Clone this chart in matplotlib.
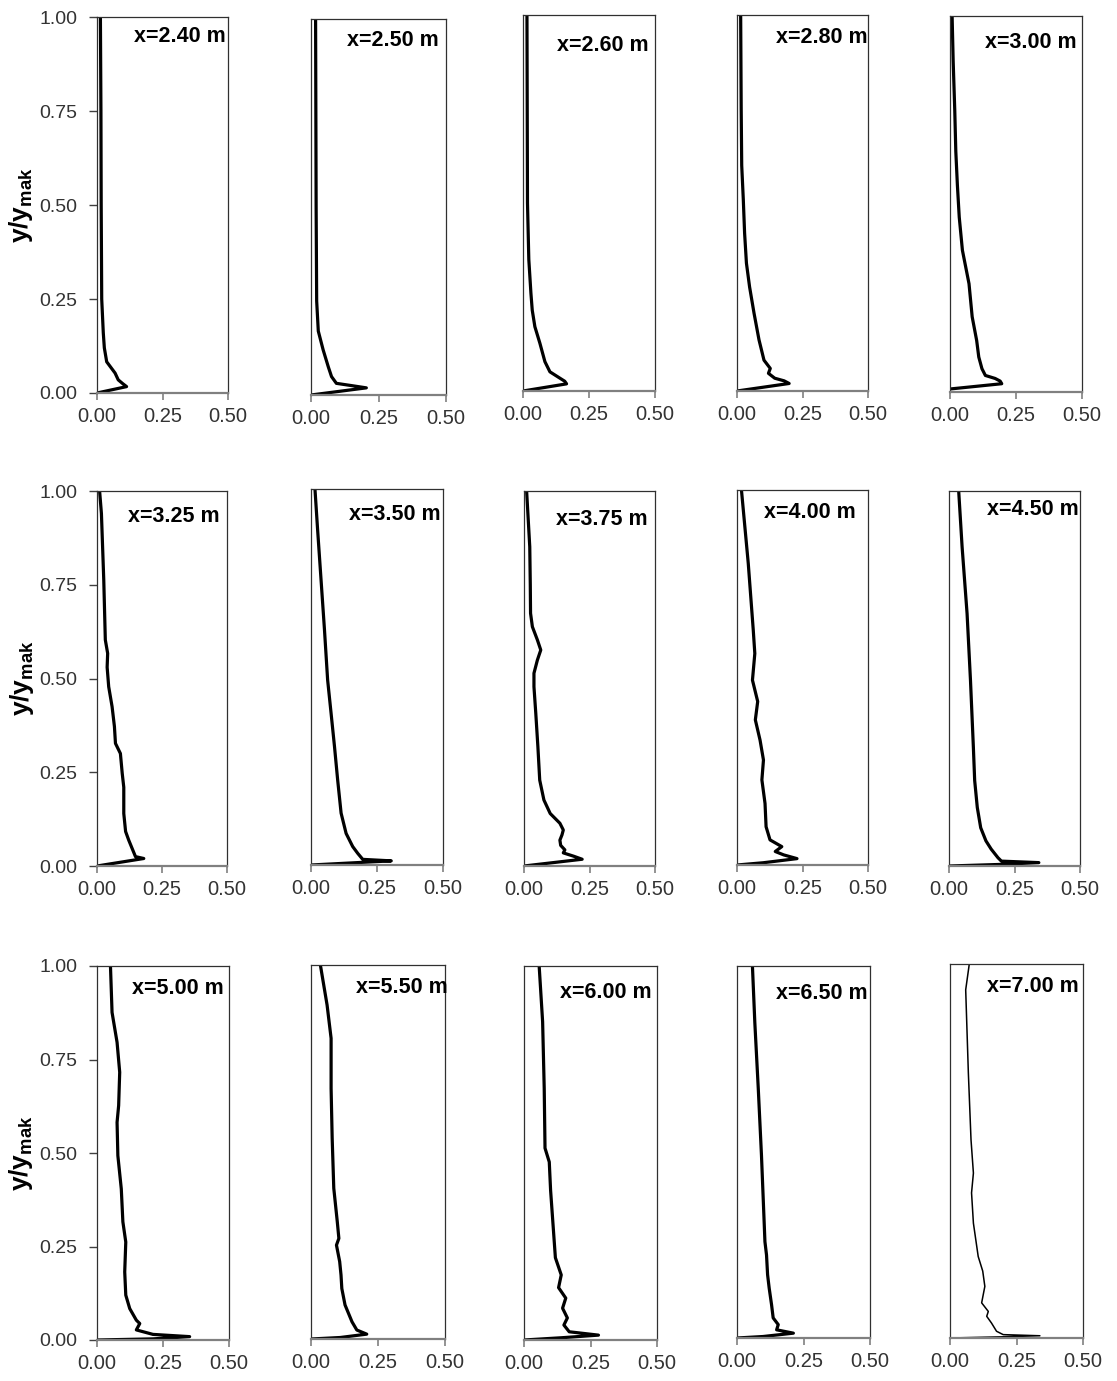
import numpy as np
import matplotlib
matplotlib.use('Agg')
import matplotlib.pyplot as plt

plt.rcParams['font.family'] = 'Liberation Sans'
plt.rcParams['mathtext.fontset'] = 'custom'
plt.rcParams['mathtext.bf'] = 'Liberation Sans:bold'
plt.rcParams['mathtext.rm'] = 'Liberation Sans'

# stations along the channel
stations = ['2.40', '2.50', '2.60', '2.80', '3.00',
            '3.25', '3.50', '3.75', '4.00', '4.50',
            '5.00', '5.50', '6.00', '6.50', '7.00']

# profiles: u = horizontal value, y = y/y_mak
y_240 = [0.0, 0.017, 0.025, 0.035, 0.053, 0.083, 0.12, 0.16, 0.25, 0.5, 0.75, 1.0]
u_240 = [0.0, 0.113, 0.098, 0.081, 0.069, 0.037, 0.028, 0.024, 0.018, 0.016, 0.015, 0.013]

y_250 = [0.0, 0.019, 0.025, 0.031, 0.049, 0.075, 0.12, 0.17, 0.25, 0.5, 0.75, 1.0]
u_250 = [0.0, 0.205, 0.15, 0.094, 0.076, 0.064, 0.045, 0.027, 0.021, 0.019, 0.018, 0.017]

y_260 = [0.0, 0.019, 0.026, 0.034, 0.051, 0.078, 0.127, 0.171, 0.215, 0.26, 0.35, 0.5, 0.75, 1.0]
u_260 = [0.0, 0.165, 0.158, 0.14, 0.102, 0.083, 0.064, 0.045, 0.035, 0.03, 0.022, 0.017, 0.016, 0.015]

y_280 = [0.0, 0.020, 0.027, 0.034, 0.047, 0.060, 0.082, 0.136, 0.207, 0.277, 0.34, 0.42, 0.51, 0.6, 0.75, 1.0]
u_280 = [0.0, 0.199, 0.18, 0.144, 0.12, 0.127, 0.103, 0.084, 0.065, 0.048, 0.036, 0.029, 0.024, 0.018, 0.016, 0.014]

y_300 = [0.008, 0.022, 0.029, 0.036, 0.044, 0.062, 0.093, 0.137, 0.2, 0.288, 0.377, 0.465, 0.55, 0.64, 0.75, 0.88, 1.0]
u_300 = [0.0, 0.196, 0.19, 0.171, 0.134, 0.121, 0.109, 0.101, 0.084, 0.072, 0.047, 0.035, 0.028, 0.022, 0.018, 0.012, 0.008]

y_325 = [0.0, 0.020, 0.025, 0.047, 0.069, 0.092, 0.14, 0.21, 0.247, 0.30, 0.327, 0.372, 0.425,
         0.478, 0.53, 0.567, 0.603, 0.763, 0.94, 1.0]
u_325 = [0.0, 0.180, 0.148, 0.135, 0.122, 0.110, 0.103, 0.103, 0.097, 0.090, 0.071, 0.067, 0.058,
         0.045, 0.039, 0.041, 0.032, 0.026, 0.017, 0.010]

y_350 = [0.0, 0.011, 0.015, 0.031, 0.049, 0.084, 0.138, 0.226, 0.315, 0.404, 0.492, 0.626, 0.759, 0.892, 1.0]
u_350 = [0.0, 0.304, 0.196, 0.177, 0.158, 0.133, 0.114, 0.101, 0.089, 0.076, 0.063, 0.051, 0.038, 0.025, 0.015]

y_375 = [0.0, 0.018, 0.026, 0.035, 0.043, 0.055, 0.069, 0.083, 0.096, 0.114, 0.14, 0.176, 0.229,
         0.318, 0.407, 0.478, 0.514, 0.549, 0.576, 0.603, 0.638, 0.674, 0.75, 0.851, 1.0]
u_375 = [0.0, 0.222, 0.19, 0.15, 0.156, 0.14, 0.137, 0.145, 0.15, 0.137, 0.10, 0.076, 0.060,
         0.053, 0.045, 0.038, 0.038, 0.051, 0.064, 0.051, 0.032, 0.025, 0.024, 0.022, 0.010]

y_400 = [0.0, 0.006, 0.017, 0.027, 0.036, 0.049, 0.067, 0.102, 0.164, 0.227, 0.28, 0.333, 0.387,
         0.436, 0.493, 0.564, 0.627, 0.804, 1.0]
u_400 = [0.0, 0.10, 0.229, 0.178, 0.146, 0.171, 0.126, 0.111, 0.107, 0.095, 0.101, 0.088, 0.070,
         0.079, 0.059, 0.068, 0.062, 0.043, 0.017]

y_450 = [0.0, 0.004, 0.009, 0.013, 0.022, 0.045, 0.067, 0.102, 0.156, 0.228, 0.317, 0.495, 0.673, 0.851, 1.0]
u_450 = [0.0, 0.187, 0.343, 0.2, 0.187, 0.161, 0.141, 0.121, 0.108, 0.098, 0.093, 0.082, 0.069, 0.050, 0.037]

y_500 = [0.0, 0.003, 0.009, 0.015, 0.027, 0.044, 0.053, 0.084, 0.12, 0.182, 0.262, 0.316, 0.404,
         0.493, 0.582, 0.627, 0.716, 0.796, 0.876, 1.0]
u_500 = [0.0, 0.212, 0.351, 0.212, 0.149, 0.162, 0.149, 0.124, 0.109, 0.105, 0.109, 0.098, 0.092,
         0.079, 0.076, 0.082, 0.086, 0.076, 0.057, 0.051]

y_550 = [0.0, 0.004, 0.013, 0.024, 0.046, 0.091, 0.135, 0.171, 0.207, 0.251, 0.269, 0.314, 0.403,
         0.537, 0.670, 0.804, 0.893, 1.0]
u_550 = [0.0, 0.109, 0.208, 0.171, 0.153, 0.127, 0.115, 0.112, 0.107, 0.095, 0.104, 0.098, 0.085,
         0.079, 0.075, 0.075, 0.060, 0.035]

y_600 = [0.0, 0.006, 0.013, 0.022, 0.04, 0.059, 0.085, 0.112, 0.14, 0.174, 0.22, 0.3, 0.4, 0.476,
         0.513, 0.673, 0.851, 1.0]
u_600 = [0.0, 0.14, 0.28, 0.17, 0.15, 0.163, 0.145, 0.157, 0.13, 0.14, 0.118, 0.11, 0.1, 0.095,
         0.079, 0.076, 0.07, 0.057]

y_650 = [0.0, 0.004, 0.013, 0.022, 0.036, 0.054, 0.089, 0.134, 0.17, 0.223, 0.259, 0.313, 0.491, 0.67, 0.848, 1.0]
u_650 = [0.0, 0.098, 0.212, 0.149, 0.155, 0.136, 0.130, 0.121, 0.115, 0.111, 0.105, 0.102, 0.092, 0.080, 0.067, 0.058]

y_700 = [0.0, 0.003, 0.006, 0.009, 0.018, 0.04, 0.058, 0.071, 0.094, 0.138, 0.179, 0.218, 0.307,
         0.388, 0.441, 0.53, 0.709, 0.931, 1.0]
u_700 = [0.0, 0.186, 0.338, 0.2, 0.175, 0.156, 0.138, 0.144, 0.119, 0.131, 0.123, 0.106, 0.088,
         0.081, 0.088, 0.079, 0.069, 0.059, 0.0725]

U = [u_240, u_250, u_260, u_280, u_300, u_325, u_350, u_375, u_400, u_450,
     u_500, u_550, u_600, u_650, u_700]
Y = [y_240, y_250, y_260, y_280, y_300, y_325, y_350, y_375, y_400, y_450,
     y_500, y_550, y_600, y_650, y_700]

W, H = 1117, 1381
fig = plt.figure(figsize=(W / 100, H / 100), dpi=100)

# panel boxes in pixels: left, top, right, bottom
boxes = [(97, 17, 228, 393), (311, 19, 446, 395), (523, 15, 655, 391), (737, 15, 868, 391), (950, 16, 1082, 392),
         (97, 491, 227, 866), (311, 489, 443, 865), (524, 491, 655, 866), (737, 490, 868, 865), (949, 491, 1080, 866),
         (97, 966, 229, 1340), (311, 965, 445, 1339), (524, 966, 657, 1340), (737, 966, 870, 1338), (950, 964, 1083, 1338)]
# label anchor (right edge, centre) in axes fraction
label_xy = [(0.985, 0.947), (0.95, 0.944), (0.95, 0.92), (1.0, 0.94), (0.96, 0.93),
            (0.94, 0.933), (0.98, 0.933), (0.94, 0.925), (0.91, 0.94), (0.99, 0.95),
            (0.96, 0.94), (1.02, 0.94), (0.96, 0.93), (0.98, 0.925), (0.97, 0.94)]

for i in range(len(stations)):
    l, t, r, b = boxes[i]
    ax = fig.add_axes([l / W, 1 - b / H, (r - l) / W, (b - t) / H])
    lw = 1.1 if i == 14 else 2.3
    ax.plot(U[i], Y[i], color='black', lw=lw, solid_joinstyle='round')
    ax.set_xlim(0, 0.5)
    ax.set_ylim(0, 1)
    ax.set_xticks([0, 0.25, 0.5])
    ax.set_xticklabels(['0.00', '0.25', '0.50'])
    ax.tick_params(axis='x', direction='out', length=5, width=1.2, color='#808080',
                   labelsize=14.5, labelcolor='#333333', pad=5)
    for s in ['left', 'right', 'top']:
        ax.spines[s].set_color('#303030')
        ax.spines[s].set_linewidth(0.9)
    ax.spines['bottom'].set_color('#808080')
    ax.spines['bottom'].set_linewidth(1.6)
    if i % 5 == 0:
        ax.set_yticks([0, 0.25, 0.5, 0.75, 1.0])
        ax.set_yticklabels(['0.00', '0.25', '0.50', '0.75', '1.00'])
        ax.tick_params(axis='y', direction='out', length=6, width=1.0, color='#404040',
                       labelsize=14, labelcolor='#333333', pad=8)
        ax.set_ylabel(r'$\mathbf{y/y_{mak}}$', fontsize=19)
        ax.yaxis.set_label_coords(-0.47, 0.5)
    else:
        ax.set_yticks([])
    tx, ty = label_xy[i]
    ax.text(tx, ty, 'x={} m'.format(stations[i]), transform=ax.transAxes,
            ha='right', va='center', fontsize=15.5, fontweight='bold', color='black')

fig.savefig('out.png', dpi=100)
